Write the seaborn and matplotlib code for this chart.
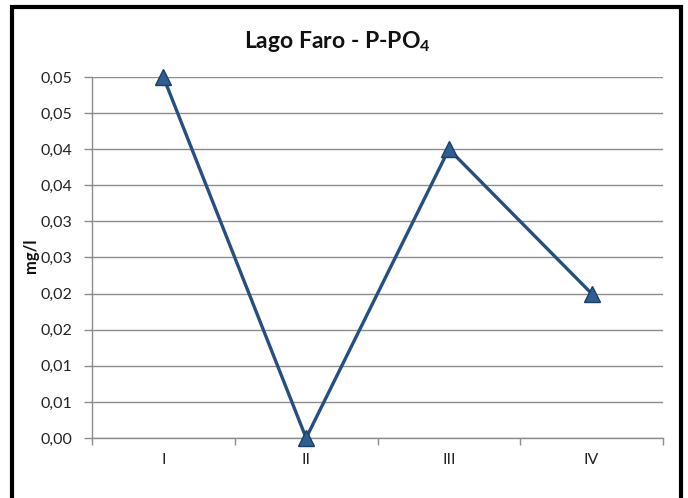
import matplotlib
matplotlib.use("Agg")
import matplotlib.pyplot as plt
import seaborn as sns
import pandas as pd
from matplotlib.patches import Rectangle
from matplotlib.ticker import FixedLocator

categories = ["I", "II", "III", "IV"]
values = [0.050, 0.000, 0.040, 0.020]
y_ticks = [0.000, 0.005, 0.010, 0.015, 0.020, 0.025, 0.030, 0.035, 0.040, 0.045, 0.050]
y_tick_labels = ["0,00", "0,01", "0,01", "0,02", "0,02", "0,03", "0,03", "0,04", "0,04", "0,05", "0,05"]

sns.set_theme(style="white")
plt.rcParams["font.family"] = ["Lato", "DejaVu Sans"]
plt.rcParams["mathtext.fontset"] = "custom"
plt.rcParams["mathtext.bf"] = "Lato:bold"
plt.rcParams["mathtext.rm"] = "Lato:bold"

df = pd.DataFrame({"cat": categories, "val": values})

fig = plt.figure(figsize=(6.88, 4.98), dpi=100)
ax = fig.add_axes([92/688, 1-438/498, (663-92)/688, (438-77)/498])

line_color = "#264F80"
sns.lineplot(data=df, x="cat", y="val", ax=ax, color=line_color, linewidth=2.4,
             marker="^", markersize=11, markerfacecolor="#2F5F92",
             markeredgecolor="#1C3F66", markeredgewidth=1.0, sort=False)
for ln in ax.lines:
    ln.set_clip_on(False)
    ln.set_zorder(5)

ax.set_xlim(-0.5, 3.5)
ax.set_ylim(0, 0.05)
ax.set_yticks(y_ticks)
ax.set_yticklabels(y_tick_labels)
ax.yaxis.grid(True, color="#8C8C8C", linewidth=1.0)
ax.xaxis.grid(False)
ax.set_axisbelow(True)

ax.set_xticks(range(len(categories)))
ax.set_xticklabels(categories)
ax.xaxis.set_minor_locator(FixedLocator([-0.5, 0.5, 1.5, 2.5, 3.5]))
ax.tick_params(axis="x", which="major", length=0, pad=11, labelsize=11.5, colors="#222222")
ax.tick_params(axis="x", which="minor", length=5, width=1, color="#8C8C8C", direction="out")
ax.tick_params(axis="y", which="major", length=6, width=1, color="#8C8C8C", direction="out",
               labelsize=11.5, labelcolor="#222222", pad=8)
ax.xaxis.set_ticks_position("bottom")
ax.yaxis.set_ticks_position("left")

for s in ["top", "right"]:
    ax.spines[s].set_visible(False)
for s in ["left", "bottom"]:
    ax.spines[s].set_color("#8C8C8C")
    ax.spines[s].set_linewidth(1.0)

ax.set_xlabel("")
ax.set_ylabel("")
fig.text(31/688, 1-256/498, "mg/l", rotation=90, ha="center", va="center",
         fontsize=12, fontweight="bold", color="#111111")

fig.text(337/688, 1-41/498, r"Lago Faro - P-PO$_\mathbf{4}$", ha="center", va="center",
         fontsize=16.5, fontweight="bold", color="#111111")

fig.patches.append(Rectangle((12/688, -0.02), (681-12)/688, 1-7/498 + 0.02,
                             transform=fig.transFigure, fill=False,
                             edgecolor="black", linewidth=3.0))

fig.savefig("out.png", dpi=100)
